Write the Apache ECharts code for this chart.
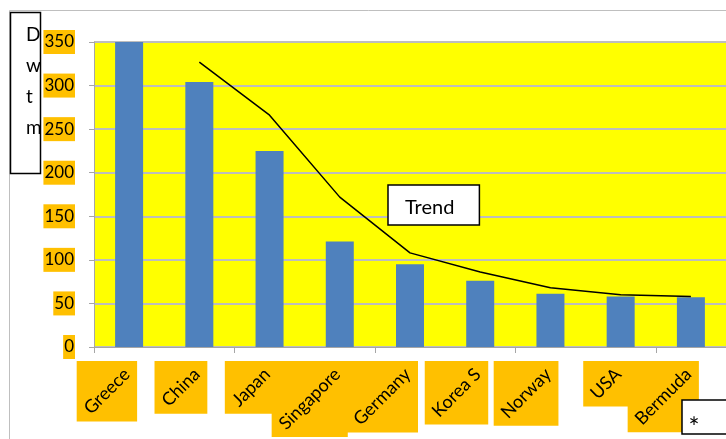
<!DOCTYPE html>
<html>
<head>
<meta charset="utf-8">
<script src="https://cdn.jsdelivr.net/npm/echarts@6/dist/echarts.min.js"></script>
<style>
  html, body { margin: 0; padding: 0; background: #ffffff; }
  #chart { width: 726px; height: 439px; }
</style>
</head>
<body>
<div id="chart"></div>
<script>
// Fleet size by country of ownership (million dwt)
const countries = ['Greece', 'China', 'Japan', 'Singapore', 'Germany', 'Korea S', 'Norway', 'USA', 'Bermuda'];
const dwt = [350, 304, 225, 121, 95, 76, 61, 58, 57];
// Trend line (no value for the first category)
const trend = [null, 327, 266, 172, 108, 86, 68, 60, 58];
const yTicks = { min: 0, max: 350, step: 50 };

const FONT = 'Lato';
const LABEL_SIZE = 18;
const ORANGE = '#FFC000';
const GRID_GRAY = '#BDBDBD';

// width of a string in the label font, for sizing the label boxes
const measureCtx = document.createElement('canvas').getContext('2d');
measureCtx.font = LABEL_SIZE + 'px ' + FONT;
function textWidth(s) { return measureCtx.measureText(s).width; }

const chart = echarts.init(document.getElementById('chart'), null, { renderer: 'canvas' });

chart.setOption({
  backgroundColor: '#ffffff',
  animation: false,
  grid: { left: 94, top: 42, width: 639, height: 305, backgroundColor: '#FFFF00', show: true, borderWidth: 0 },
  legend: {
    data: [{ name: 'Trend', icon: 'none' }],
    left: 388, top: 185,
    itemWidth: 0, itemHeight: 0, itemGap: 0,
    selectedMode: false,
    backgroundColor: '#ffffff',
    borderColor: '#000000', borderWidth: 1.5, borderRadius: 0,
    padding: [13, 25, 7, 12],
    textStyle: { fontFamily: FONT, fontSize: 20, color: '#000000' }
  },
  xAxis: {
    type: 'category',
    data: countries,
    boundaryGap: true,
    axisLine: { show: true, lineStyle: { color: '#A6A6A6', width: 1 } },
    axisTick: { show: true, alignWithLabel: false, length: 6, lineStyle: { color: '#A6A6A6' } },
    axisLabel: { show: false },
    splitLine: { show: false }
  },
  yAxis: {
    type: 'value',
    min: yTicks.min, max: yTicks.max, interval: yTicks.step,
    axisLine: { show: true, lineStyle: { color: '#A6A6A6', width: 1 } },
    axisTick: { show: true, length: 5, lineStyle: { color: '#A6A6A6' } },
    axisLabel: {
      margin: 19,
      fontFamily: FONT, fontSize: 17, color: '#000000',
      backgroundColor: ORANGE,
      padding: [4, 1, 3, 1]
    },
    splitLine: { show: true, lineStyle: { color: GRID_GRAY, width: 2 } }
  },
  series: [
    {
      name: 'Dwt',
      type: 'bar',
      data: dwt,
      barWidth: 28,
      itemStyle: { color: '#4F81BD' },
      z: 2
    },
    {
      name: 'Trend',
      type: 'line',
      data: trend,
      showSymbol: false,
      symbol: 'none',
      connectNulls: false,
      lineStyle: { color: '#000000', width: 1.5 },
      itemStyle: { color: '#000000' },
      z: 3
    },
    {
      // category names: rotated text in orange boxes below the axis
      name: 'labels',
      type: 'custom',
      coordinateSystem: 'cartesian2d',
      data: countries.map((c, i) => [i, 0]),
      clip: false,
      silent: true,
      z: 4,
      renderItem: function (params, api) {
        const i = api.value(0);
        const name = countries[i];
        const p = api.coord([i, 0]);
        const w = textWidth(name);
        const size = (w + LABEL_SIZE) * Math.SQRT1_2 + 8;
        const right = p[0] + 8;
        const top = p[1] + 14;
        const cx = right - size / 2;
        const cy = top + size / 2;
        return {
          type: 'group',
          children: [
            {
              type: 'rect',
              z2: 0,
              shape: { x: right - size, y: top, width: size, height: size },
              style: { fill: ORANGE, stroke: null }
            },
            {
              type: 'text',
              z2: 10,
              x: cx, y: cy,
              rotation: Math.PI / 4,
              style: {
                text: name,
                fontFamily: FONT, fontSize: LABEL_SIZE,
                fill: '#000000',
                align: 'center', verticalAlign: 'middle'
              }
            }
          ]
        };
      }
    }
  ],
  graphic: [
    {
      // chart area frame
      type: 'rect', z: -10, silent: true,
      shape: { x: 9.5, y: 10.5, width: 800, height: 500 },
      style: { fill: null, stroke: '#BFBFBF', lineWidth: 1 }
    },
    {
      // axis title box
      type: 'rect', z: 100, silent: true,
      shape: { x: 10.5, y: 12.5, width: 30, height: 161 },
      style: { fill: '#ffffff', stroke: '#000000', lineWidth: 1.5 }
    },
    {
      type: 'text', z: 101, silent: true,
      x: 26, y: 19,
      style: {
        text: 'D\nw\nt\nm',
        fontFamily: FONT, fontSize: 19, lineHeight: 31,
        fill: '#000000', align: 'left', verticalAlign: 'top'
      }
    },
    {
      // footnote marker
      type: 'rect', z: 100, silent: true,
      shape: { x: 682, y: 400, width: 60, height: 34 },
      style: { fill: '#ffffff', stroke: '#000000', lineWidth: 1.5 }
    },
    {
      type: 'text', z: 101, silent: true,
      x: 694, y: 429,
      style: {
        text: '*',
        fontFamily: FONT, fontSize: 26,
        fill: '#000000', align: 'center', verticalAlign: 'middle'
      }
    }
  ]
});
</script>
</body>
</html>
